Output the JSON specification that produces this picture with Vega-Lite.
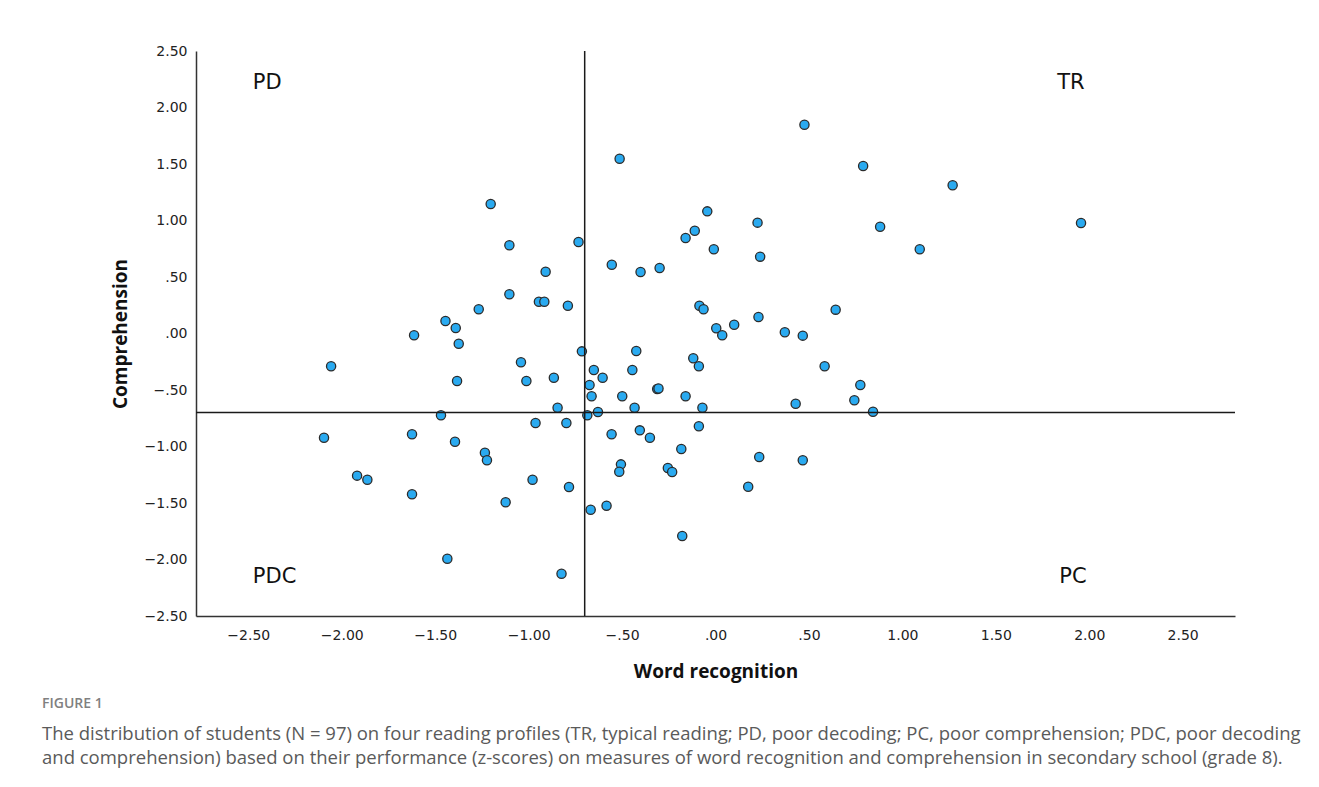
{
  "$schema": "https://vega.github.io/schema/vega-lite/v6.json",
  "width": 1039,
  "height": 565,
  "autosize": {"type": "none"},
  "padding": {"left": 196, "top": 51, "right": 84, "bottom": 171},
  "background": "white",
  "config": {
    "view": {"stroke": null},
    "axis": {
      "grid": false,
      "ticks": false,
      "domainColor": "#333",
      "domainWidth": 1.5,
      "labelFont": "DejaVu Sans",
      "labelFontSize": 14,
      "labelColor": "#222",
      "titleFont": "Open Sans",
      "titleFontSize": 19,
      "titleFontWeight": "bold",
      "titleColor": "#111"
    }
  },
  "title": {
    "text": "FIGURE 1",
    "subtitle": [
      "The distribution of students (N = 97) on four reading profiles (TR, typical reading; PD, poor decoding; PC, poor comprehension; PDC, poor decoding",
      "and comprehension) based on their performance (z-scores) on measures of word recognition and comprehension in secondary school (grade 8)."
    ],
    "orient": "bottom",
    "anchor": "start",
    "frame": "group",
    "dx": -154,
    "offset": 16,
    "font": "Open Sans",
    "fontSize": 14,
    "fontWeight": 600,
    "color": "#808080",
    "subtitleFont": "Open Sans",
    "subtitleFontSize": 18.5,
    "subtitleColor": "#5a5a5a",
    "subtitleLineHeight": 24,
    "subtitlePadding": 14
  },
  "datasets": {
    "students": [
      {"wr": -1.203, "comp": 1.146}, {"wr": -1.103, "comp": 0.781}, {"wr": -0.733, "comp": 0.810},
      {"wr": -0.909, "comp": 0.547}, {"wr": -1.103, "comp": 0.347}, {"wr": -0.945, "comp": 0.281},
      {"wr": -0.916, "comp": 0.281}, {"wr": -0.790, "comp": 0.246}, {"wr": -1.267, "comp": 0.214},
      {"wr": -1.445, "comp": 0.111}, {"wr": -1.390, "comp": 0.049}, {"wr": -1.613, "comp": -0.016},
      {"wr": -1.374, "comp": -0.090}, {"wr": -0.513, "comp": 1.547}, {"wr": 0.476, "comp": 1.848},
      {"wr": 0.790, "comp": 1.482}, {"wr": 1.269, "comp": 1.312}, {"wr": -0.044, "comp": 1.081},
      {"wr": 0.225, "comp": 0.981}, {"wr": 0.881, "comp": 0.945}, {"wr": -0.111, "comp": 0.910},
      {"wr": -0.160, "comp": 0.845}, {"wr": -0.009, "comp": 0.745}, {"wr": 1.093, "comp": 0.745},
      {"wr": 0.239, "comp": 0.680}, {"wr": -0.555, "comp": 0.609}, {"wr": -0.401, "comp": 0.544},
      {"wr": -0.299, "comp": 0.580}, {"wr": -0.086, "comp": 0.246}, {"wr": -0.064, "comp": 0.214},
      {"wr": 0.230, "comp": 0.146}, {"wr": 0.643, "comp": 0.211}, {"wr": 0.004, "comp": 0.046},
      {"wr": 0.100, "comp": 0.078}, {"wr": 0.036, "comp": -0.016}, {"wr": 0.371, "comp": 0.011},
      {"wr": 0.467, "comp": -0.019}, {"wr": 1.956, "comp": 0.978}, {"wr": -2.057, "comp": -0.290},
      {"wr": -0.715, "comp": -0.158}, {"wr": -1.041, "comp": -0.255}, {"wr": -0.651, "comp": -0.323},
      {"wr": -0.604, "comp": -0.391}, {"wr": -1.383, "comp": -0.420}, {"wr": -1.012, "comp": -0.420},
      {"wr": -0.865, "comp": -0.391}, {"wr": -0.674, "comp": -0.456}, {"wr": -0.663, "comp": -0.556},
      {"wr": -0.845, "comp": -0.657}, {"wr": -1.469, "comp": -0.724}, {"wr": -0.686, "comp": -0.724},
      {"wr": -0.629, "comp": -0.695}, {"wr": -0.963, "comp": -0.792}, {"wr": -0.798, "comp": -0.792},
      {"wr": -2.095, "comp": -0.922}, {"wr": -1.624, "comp": -0.892}, {"wr": -1.394, "comp": -0.958},
      {"wr": -1.234, "comp": -1.055}, {"wr": -1.223, "comp": -1.122}, {"wr": -1.918, "comp": -1.258},
      {"wr": -1.863, "comp": -1.294}, {"wr": -0.979, "comp": -1.294}, {"wr": -0.784, "comp": -1.358},
      {"wr": -1.624, "comp": -1.423}, {"wr": -1.123, "comp": -1.494}, {"wr": -0.668, "comp": -1.559},
      {"wr": -1.435, "comp": -1.993}, {"wr": -0.824, "comp": -2.126}, {"wr": -0.424, "comp": -0.155},
      {"wr": -0.445, "comp": -0.323}, {"wr": -0.119, "comp": -0.219}, {"wr": -0.089, "comp": -0.290},
      {"wr": 0.584, "comp": -0.290}, {"wr": -0.312, "comp": -0.491}, {"wr": -0.305, "comp": -0.486},
      {"wr": -0.499, "comp": -0.556}, {"wr": -0.160, "comp": -0.556}, {"wr": 0.775, "comp": -0.456},
      {"wr": 0.743, "comp": -0.591}, {"wr": 0.429, "comp": -0.621}, {"wr": -0.433, "comp": -0.657},
      {"wr": -0.070, "comp": -0.657}, {"wr": 0.843, "comp": -0.692}, {"wr": -0.556, "comp": -0.892},
      {"wr": -0.405, "comp": -0.857}, {"wr": -0.351, "comp": -0.922}, {"wr": -0.089, "comp": -0.821},
      {"wr": -0.183, "comp": -1.022}, {"wr": 0.234, "comp": -1.093}, {"wr": 0.467, "comp": -1.122},
      {"wr": -0.506, "comp": -1.158}, {"wr": -0.515, "comp": -1.223}, {"wr": -0.255, "comp": -1.190},
      {"wr": -0.232, "comp": -1.226}, {"wr": 0.175, "comp": -1.356}, {"wr": -0.583, "comp": -1.524},
      {"wr": -0.178, "comp": -1.792}
    ],
    "profiles": [
      {"label": "PD", "wr": -2.476, "comp": 2.217},
      {"label": "TR", "wr": 1.829, "comp": 2.217},
      {"label": "PDC", "wr": -2.476, "comp": -2.155},
      {"label": "PC", "wr": 1.840, "comp": -2.155}
    ],
    "cutoffs": [{"cut": -0.7}]
  },
  "layer": [
    {
      "data": {"name": "students"},
      "mark": {"type": "point", "shape": "circle", "filled": true, "fill": "#2aaaf0", "stroke": "#2b2b2b", "strokeWidth": 1.3, "opacity": 1, "size": 85},
      "encoding": {
        "x": {
          "field": "wr", "type": "quantitative",
          "scale": {"domain": [-2.78, 2.78], "nice": false, "zero": false},
          "axis": {
            "title": "Word recognition",
            "values": [-2.5, -2, -1.5, -1, -0.5, 0, 0.5, 1, 1.5, 2, 2.5],
            "labelExpr": "abs(datum.value) < 1 ? (datum.value < 0 ? '\u2212' : '') + slice(format(abs(datum.value), '.2f'), 1) : format(datum.value, '.2f')",
            "labelPadding": 12,
            "titlePadding": 20
          }
        },
        "y": {
          "field": "comp", "type": "quantitative",
          "scale": {"domain": [-2.5, 2.5], "nice": false, "zero": false},
          "axis": {
            "title": "Comprehension",
            "values": [-2.5, -2, -1.5, -1, -0.5, 0, 0.5, 1, 1.5, 2, 2.5],
            "labelExpr": "abs(datum.value) < 1 ? (datum.value < 0 ? '\u2212' : '') + slice(format(abs(datum.value), '.2f'), 1) : format(datum.value, '.2f')",
            "labelPadding": 9,
            "titlePadding": 14
          }
        }
      }
    },
    {
      "data": {"name": "cutoffs"},
      "mark": {"type": "rule", "color": "#1a1a1a", "strokeWidth": 1.5},
      "encoding": {"x": {"field": "cut", "type": "quantitative"}}
    },
    {
      "data": {"name": "cutoffs"},
      "mark": {"type": "rule", "color": "#1a1a1a", "strokeWidth": 1.5},
      "encoding": {"y": {"field": "cut", "type": "quantitative"}}
    },
    {
      "data": {"name": "profiles"},
      "mark": {"type": "text", "align": "left", "baseline": "middle", "font": "DejaVu Sans", "fontSize": 21, "color": "#111"},
      "encoding": {
        "x": {"field": "wr", "type": "quantitative"},
        "y": {"field": "comp", "type": "quantitative"},
        "text": {"field": "label"}
      }
    }
  ]
}
